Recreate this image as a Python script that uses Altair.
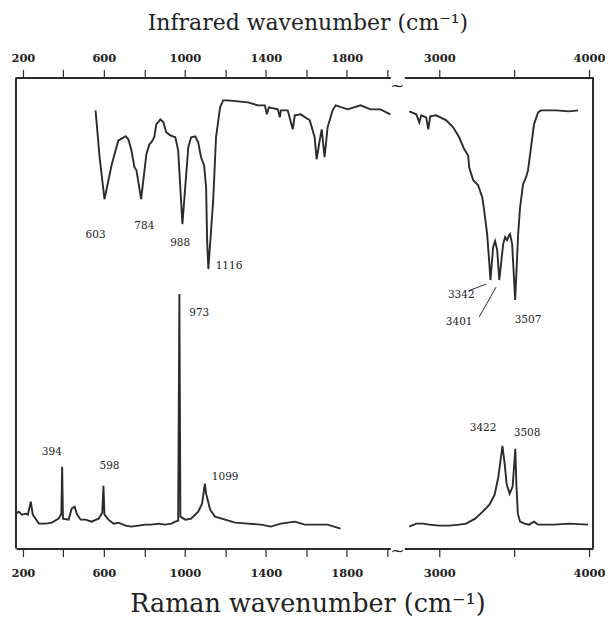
import altair as alt
import pandas as pd

# ---------------- data (arbitrary intensity units) ----------------
ir_left_wn = [559, 579, 603, 638, 662, 672, 682, 707, 721, 736, 751, 761, 784, 810, 825, 835, 849, 859, 879, 894,
              908, 928, 953, 967, 988, 1017, 1031, 1051, 1066, 1080, 1095, 1105, 1110, 1116, 1140, 1154, 1174, 1189,
              1213, 1312, 1361, 1395, 1405, 1415, 1459, 1469, 1474, 1508, 1533, 1543, 1572, 1617, 1641, 1651, 1666,
              1676, 1690, 1705, 1730, 1745, 1804, 1868, 1917, 1966, 2015]
ir_left_t = [439, 392, 350, 384, 402, 409, 410, 413, 410, 399, 382, 379, 350, 395, 405, 407, 412, 425, 430, 427,
             417, 414, 412, 399, 325, 402, 412, 413, 407, 392, 384, 362, 309, 280, 349, 412, 442, 449,
             449, 447, 444, 444, 435, 442, 440, 432, 439, 439, 420, 434, 435, 429, 412, 390, 409,
             420, 392, 422, 439, 444, 440, 444, 440, 440, 435]

ir_right_wn = [2800, 2847, 2867, 2880, 2913, 2927, 2940, 2980, 3047, 3093, 3133, 3167, 3193, 3200, 3227, 3260,
               3287, 3300, 3320, 3333, 3342, 3360, 3373, 3387, 3401, 3427, 3440, 3453, 3467, 3473, 3487, 3507,
               3527, 3540, 3560, 3580, 3593, 3613, 3633, 3660, 3680, 3780, 3867, 3927]
ir_right_t = [438, 435, 427, 434, 432, 420, 433, 434, 429, 422, 412, 400, 394, 382, 369, 364,
              352, 339, 315, 289, 269, 302, 308, 299, 269, 305, 312, 309, 314, 315, 305, 249,
              315, 342, 365, 372, 379, 402, 425, 437, 439, 439, 438, 439]

raman_left_wn = [166, 180, 195, 215, 225, 239, 249, 279, 313, 343, 377, 390, 394, 398, 426, 441, 456, 466, 485,
                 510, 539, 574, 592, 598, 603, 623, 648, 672, 707, 736, 771, 805, 835, 869, 903, 933, 953, 967,
                 973, 978, 1002, 1031, 1066, 1085, 1099, 1105, 1125, 1149, 1199, 1248, 1312, 1376, 1425, 1474,
                 1543, 1592, 1656, 1705, 1769]
raman_left_i = [35, 37, 34, 35, 34, 47, 34, 25, 25, 26, 30, 35, 82, 30, 29, 40, 42, 35, 29,
                29, 27, 30, 36, 63, 34, 29, 25, 26, 23, 22, 23, 24, 24, 25, 24, 25, 27, 28,
                255, 32, 29, 30, 37, 45, 65, 55, 39, 32, 29, 26, 25, 24, 22, 25,
                27, 24, 24, 24, 20]

raman_right_wn = [2800, 2847, 2893, 2933, 3000, 3067, 3133, 3180, 3240, 3290, 3335, 3370, 3395, 3422, 3437,
                  3450, 3470, 3490, 3508, 3515, 3525, 3540, 3570, 3600, 3633, 3660, 3700, 3767, 3867, 3993]
raman_right_i = [22, 25, 25, 24, 23, 23, 24, 25, 30, 37, 44, 54, 72, 103, 85,
                 65, 55, 62, 100, 65, 35, 27, 25, 24, 27, 24, 24, 24, 25, 24]

# peak annotations (text, wavenumber, intensity)
left_label_text = ["603", "784", "988", "1116", "394", "598", "973", "1099"]
left_label_wn = [559, 800, 977, 1218, 343, 628, 1071, 1199]
left_label_v = [314, 323, 306, 283, 97, 83, 236, 72]

right_label_text = ["3342", "3401", "3507", "3422", "3508"]
right_label_wn = [3147, 3133, 3593, 3293, 3587]
right_label_v = [254, 227, 229, 121, 116]

leader_wn = [3193, 3267]
leader_wn2 = [3313, 3380]
leader_v = [258, 232]
leader_v2 = [265, 262]

left_ticks = [200, 400, 600, 800, 1000, 1200, 1400, 1600, 1800, 2000]
right_ticks = [3000, 3500, 4000]

# ---------------- styling ----------------
INK = "#2b2b2b"
FONT = "DejaVu Serif"
H = 472
WL, WR = 375, 189
GAP = 14
YDOM = [0, 472]
LDOM = [166, 2015]
RDOM = [2767, 4027]


def xaxis(orient, values, expr):
    return alt.Axis(orient=orient, values=values, labelExpr=expr, format="d", title=None,
                    grid=False, domain=True, domainColor=INK, domainWidth=2,
                    ticks=True, tickColor=INK, tickSize=8, tickWidth=1.2,
                    labelFont=FONT, labelFontSize=11.5, labelFontWeight="bold", labelColor="#222",
                    labelPadding=6 if orient == "top" else 11,
                    labelFlush=False, labelOverlap=False)


def panel(ir_wn, ir_t, ra_wn, ra_i, dom, width, ticks, expr, frame_x, lab_text, lab_wn, lab_v):
    ir = pd.DataFrame({"wn": ir_wn, "v": ir_t})
    ra = pd.DataFrame({"wn": ra_wn, "v": ra_i})
    xs = alt.Scale(domain=dom, nice=False, zero=False)
    ys = alt.Scale(domain=YDOM, nice=False, zero=False)
    ir_line = alt.Chart(ir).mark_line(color=INK, strokeWidth=1.9).encode(
        x=alt.X("wn:Q", scale=xs, axis=xaxis("top", ticks, expr)),
        y=alt.Y("v:Q", scale=ys, axis=None),
        order="wn:Q",
    )
    ra_line = alt.Chart(ra).mark_line(color=INK, strokeWidth=1.9).encode(
        x=alt.X("wn:Q", scale=xs, axis=xaxis("bottom", ticks, expr)),
        y=alt.Y("v:Q", scale=ys, axis=None),
        order="wn:Q",
    )
    labs = pd.DataFrame({"t": lab_text, "wn": lab_wn, "v": lab_v})
    text = alt.Chart(labs).mark_text(font=FONT, fontSize=10.5, color="#222").encode(
        x=alt.X("wn:Q", scale=xs, axis=None),
        y=alt.Y("v:Q", scale=ys, axis=None),
        text="t:N",
    )
    # vertical side of the frame
    side = alt.Chart(pd.DataFrame({"k": [0]})).mark_rule(color=INK, strokeWidth=2).encode(
        x=alt.value(frame_x), y=alt.value(0), y2=alt.value(H)
    )
    return [ir_line, ra_line, text, side], xs, ys


lp_layers, lxs, lys = panel(ir_left_wn, ir_left_t, raman_left_wn, raman_left_i, LDOM, WL, left_ticks,
                            "datum.value % 400 == 200 ? datum.label : ''", 0,
                            left_label_text, left_label_wn, left_label_v)

# break symbols in the gap between the panels
brk = pd.DataFrame({"v": [YDOM[1] - 9, YDOM[0] - 2]})
tilde = alt.Chart(brk).mark_text(text="~", font=FONT, fontSize=17, color=INK).encode(
    x=alt.value(WL + GAP / 2),
    y=alt.Y("v:Q", scale=lys, axis=None),
)
left = alt.layer(*lp_layers, tilde).resolve_axis(x="independent").properties(width=WL, height=H)

rp_layers, rxs, rys = panel(ir_right_wn, ir_right_t, raman_right_wn, raman_right_i, RDOM, WR, right_ticks,
                            "datum.value % 1000 == 0 ? datum.label : ''", WR,
                            right_label_text, right_label_wn, right_label_v)
lead = pd.DataFrame({"x": leader_wn, "x2": leader_wn2, "y": leader_v, "y2": leader_v2})
leaders = alt.Chart(lead).mark_rule(color=INK, strokeWidth=1).encode(
    x=alt.X("x:Q", scale=rxs, axis=None), x2="x2:Q",
    y=alt.Y("y:Q", scale=rys, axis=None), y2="y2:Q",
)
right = alt.layer(*rp_layers, leaders).resolve_axis(x="independent").properties(width=WR, height=H)

inner = alt.hconcat(left, right, spacing=GAP, bounds="flush").properties(
    title=alt.TitleParams("Infrared wavenumber (cm⁻¹)", orient="top", anchor="middle",
                          font=FONT, fontSize=22, fontWeight="normal", color="#222", offset=17)
)
chart = alt.vconcat(inner).properties(
    title=alt.TitleParams("Raman wavenumber (cm⁻¹)", orient="bottom", anchor="middle",
                          font=FONT, fontSize=25.5, fontWeight="normal", color="#222", offset=13),
    padding={"left": 2, "top": 4, "right": 0, "bottom": 0},
    background="white",
).configure_view(stroke="transparent", strokeWidth=0)

chart.save("out.html", embed_options={"renderer": "svg", "actions": False})
